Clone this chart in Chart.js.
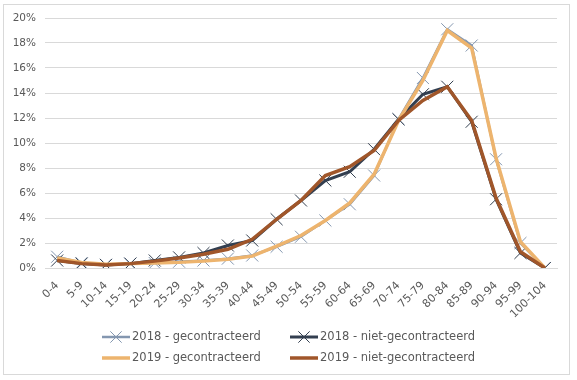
<!DOCTYPE html>
<html>
<head>
<meta charset="utf-8">
<script src="https://cdn.jsdelivr.net/npm/chart.js@4/dist/chart.umd.min.js"></script>
<style>
html,body{margin:0;padding:0;background:#fff;}
#wrap{position:relative;width:577px;height:380px;}
</style>
</head>
<body>
<div id="wrap"><canvas id="c" width="577" height="380"></canvas></div>
<script>
const categories = ["0-4","5-9","10-14","15-19","20-24","25-29","30-34","35-39","40-44","45-49","50-54","55-59","60-64","65-69","70-74","75-79","80-84","85-89","90-94","95-99","100-104"];
const seriesNames = ["2018 - gecontracteerd","2018 - niet-gecontracteerd","2019 - gecontracteerd","2019 - niet-gecontracteerd"];
const gec2018  = [0.9,0.4,0.25,0.35,0.4,0.5,0.6,0.75,1.0,1.7,2.5,3.8,5.1,7.4,11.9,15.2,19.1,17.8,8.7,2.0,0.0];
const niet2018 = [0.6,0.35,0.25,0.35,0.6,0.85,1.2,1.8,2.2,3.9,5.4,7.0,7.7,9.5,11.9,13.9,14.5,11.7,5.5,1.2,0.0];
const gec2019  = [0.8,0.45,0.3,0.35,0.4,0.45,0.55,0.7,0.95,1.75,2.6,3.8,5.2,7.5,11.8,15.0,19.0,17.6,8.8,2.1,0.0];
const niet2019 = [0.6,0.35,0.25,0.35,0.55,0.8,1.1,1.5,2.3,3.9,5.4,7.4,8.1,9.4,11.8,13.4,14.5,11.8,5.6,1.3,0.0];
const yTicks = [0,2,4,6,8,10,12,14,16,18,20];

const colors = ["#8497B0","#333F50","#EDB46E","#A0562A"];
const widths = [2.5,3,3.5,3.5];
const markers = [true,true,false,false];
const FONT = "DejaVu Sans";
const TXT = "#595959";

const frame = {
  id:'frame',
  beforeDraw(chart){
    const ctx = chart.ctx;
    ctx.save();
    ctx.fillStyle='#fff';
    ctx.fillRect(0,0,chart.width,chart.height);
    ctx.strokeStyle='#d9d9d9';
    ctx.lineWidth=1;
    ctx.strokeRect(3.5,4.5,566,370);
    ctx.restore();
  }
};

function drawCross(ctx,x,y,r){
  const o = r*Math.SQRT1_2;
  ctx.beginPath();
  ctx.moveTo(x-o,y-o); ctx.lineTo(x+o,y+o);
  ctx.moveTo(x+o,y-o); ctx.lineTo(x-o,y+o);
  ctx.stroke();
}

const legendPlugin = {
  id:'customLegend',
  afterDraw(chart){
    const ctx = chart.ctx;
    const pos = [[102,337],[290,337],[102,358],[290,358]];
    ctx.save();
    chart.data.datasets.forEach((ds,i)=>{
      const [x,y] = pos[i];
      ctx.strokeStyle = ds.borderColor;
      ctx.lineWidth = ds.borderWidth;
      ctx.beginPath();
      ctx.moveTo(x,y); ctx.lineTo(x+28,y);
      ctx.stroke();
      if (markers[i]) {
        ctx.lineWidth = 1;
        ctx.strokeStyle = ds.pointBorderColor;
        drawCross(ctx,x+14,y,8);
      }
      ctx.fillStyle = TXT;
      ctx.font = "11.5px '"+FONT+"'";
      ctx.textBaseline='middle';
      ctx.textAlign='left';
      ctx.fillText(ds.label,x+30,y);
    });
    ctx.restore();
  }
};

const dataArrays = [gec2018,niet2018,gec2019,niet2019];
const orders = [4,3,2,1];
const datasets = dataArrays.map((d,i)=>({
  label: seriesNames[i],
  data: d,
  borderColor: colors[i],
  backgroundColor: colors[i],
  borderWidth: widths[i],
  pointStyle: 'crossRot',
  pointRadius: markers[i] ? 8.5 : 0,
  pointHoverRadius: markers[i] ? 8.5 : 0,
  pointBorderWidth: 1,
  pointBorderColor: colors[i],
  tension: 0,
  order: orders[i],
  fill: false
}));

new Chart(document.getElementById('c'), {
  type:'line',
  data:{labels:categories, datasets},
  options:{
    responsive:false,
    animation:false,
    devicePixelRatio:1,
    layout:{padding:{left:6,right:20,top:18,bottom:62}},
    plugins:{legend:{display:false},tooltip:{enabled:false}},
    scales:{
      x:{
        offset:true,
        grid:{display:false,drawTicks:false},
        border:{display:true,color:'#d9d9d9'},
        ticks:{
          color:TXT,
          font:{family:FONT,size:11},
          maxRotation:45,minRotation:45,
          autoSkip:false,
          padding:11
        },
        afterFit(s){ s.height = 50; }
      },
      y:{
        min:0,max:20,
        afterBuildTicks(s){ s.ticks = yTicks.map(v=>({value:v})); },
        grid:{color:'#d9d9d9',drawTicks:false},
        border:{display:false},
        ticks:{
          color:TXT,
          font:{family:FONT,size:10.5},
          padding:9,
          callback:v=>v+'%'
        },
        afterFit(s){ s.width = 39; }
      }
    }
  },
  plugins:[frame,legendPlugin]
});
</script>
</body>
</html>
